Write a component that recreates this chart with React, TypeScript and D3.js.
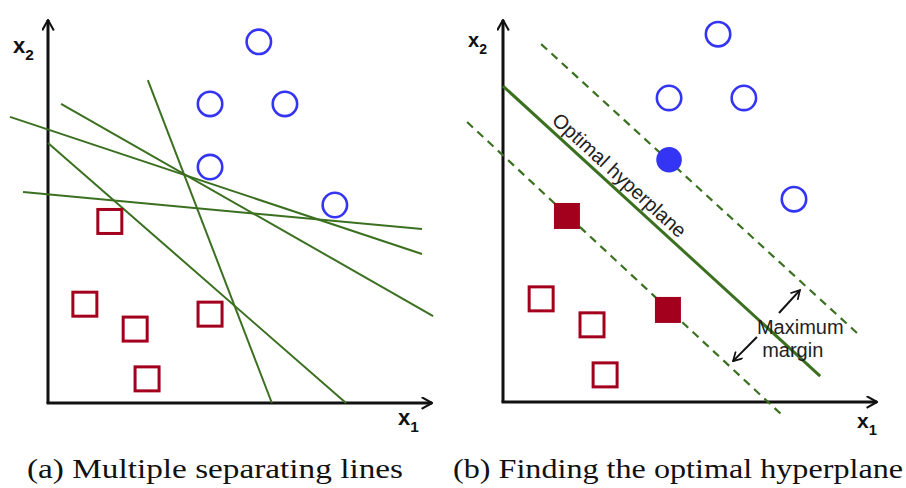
import React, { useRef, useEffect } from "react";
import * as d3 from "d3";

// panel (a): points and candidate lines, in axis units (0..10)
const leftCircles = [
  [5.49, 9.43],
  [4.22, 7.81],
  [6.17, 7.81],
  [4.22, 6.16],
  [7.47, 5.17],
];
const leftSquares = [
  [1.61, 4.74],
  [0.96, 2.58],
  [2.27, 1.93],
  [4.22, 2.32],
  [2.58, 0.63],
];
const leftLines = [
  [[-0.99, 7.47], [9.74, 3.89]],
  [[0.34, 7.81], [10.03, 2.27]],
  [[0, 6.79], [7.76, 0]],
  [[-0.65, 5.51], [9.74, 4.54]],
  [[2.6, 8.43], [5.83, 0]],
];

// panel (b): points, hyperplane and margins
const rightCircles = [
  [5.75, 9.63],
  [4.44, 7.96],
  [6.44, 7.96],
  [7.78, 5.31],
];
const rightSupportCircles = [[4.44, 6.34]];
const rightSquares = [
  [1.02, 2.7],
  [2.38, 2.02],
  [2.73, 0.71],
];
const rightSupportSquares = [
  [1.71, 4.87],
  [4.41, 2.41],
];
const hyperplane = [[0, 8.27], [8.48, 0.68]];
const margins = [
  [[1.02, 9.37], [9.55, 1.73]],
  [[-0.96, 7.33], [7.46, -0.34]],
];
const marginArrows = [
  [[7.38, 2.33], [7.94, 2.93]],
  [[6.79, 1.7], [6.15, 1.07]],
];
const marginLabel = [
  { text: "Maximum", x: 6.79, y: 1.78 },
  { text: "margin", x: 6.93, y: 1.18 },
];
const hyperplaneLabel = { text: "Optimal hyperplane", at: 1.17 };

const captions = ["(a) Multiple separating lines", "(b) Finding the optimal hyperplane"];

const GREEN = "#3b7020";
const BLUE = "#3434f5";
const RED = "#a3001e";
const SANS = "'Liberation Sans', Arial, Helvetica, sans-serif";
const SERIF = "'Liberation Serif', 'Times New Roman', Times, serif";

const App = () => {
  const ref = useRef();

  useEffect(() => {
    const svg = d3.select(ref.current);
    svg.selectAll("*").remove();

    const defs = svg.append("defs");
    const mk = (id, size) =>
      defs
        .append("marker")
        .attr("id", id)
        .attr("viewBox", "0 0 10 10")
        .attr("refX", 9)
        .attr("refY", 5)
        .attr("markerUnits", "userSpaceOnUse")
        .attr("markerWidth", size)
        .attr("markerHeight", size)
        .attr("orient", "auto")
        .append("path")
        .attr("d", "M1,0.5 L9,5 L1,9.5")
        .attr("fill", "none")
        .attr("stroke", "#111")
        .attr("stroke-width", 1.6);
    mk("axisArrow", 13);
    mk("smallArrow", 11);

    const L = {
      x: d3.scaleLinear().domain([0, 10]).range([48, 432]),
      y: d3.scaleLinear().domain([0, 10]).range([403, 20]),
    };
    const R = {
      x: d3.scaleLinear().domain([0, 10]).range([503, 877]),
      y: d3.scaleLinear().domain([0, 10]).range([402, 20]),
    };

    const drawAxes = (s, lab) => {
      const g = svg.append("g");
      g.append("line")
        .attr("x1", s.x(0)).attr("y1", s.y(0))
        .attr("x2", s.x(0)).attr("y2", s.y(10))
        .attr("stroke", "#111").attr("stroke-width", 3)
        .attr("marker-end", "url(#axisArrow)");
      g.append("line")
        .attr("x1", s.x(0) - 1.5).attr("y1", s.y(0))
        .attr("x2", s.x(10)).attr("y2", s.y(0))
        .attr("stroke", "#111").attr("stroke-width", 3)
        .attr("marker-end", "url(#axisArrow)");
      lab.forEach((l) => {
        const t = g.append("text")
          .attr("x", l.x).attr("y", l.y)
          .style("font-family", SANS)
          .attr("font-weight", "bold")
          .attr("font-size", l.size)
          .attr("fill", "#111");
        t.append("tspan").text("x");
        t.append("tspan").attr("dy", 7).attr("font-size", l.size * 0.7).text(l.sub);
      });
    };

    const lineGen = (s) => d3.line().x((d) => s.x(d[0])).y((d) => s.y(d[1]));

    const drawCircles = (s, data, filled) =>
      svg.append("g").selectAll("circle").data(data).enter().append("circle")
        .attr("cx", (d) => s.x(d[0])).attr("cy", (d) => s.y(d[1]))
        .attr("r", filled ? 12.8 : 12.2)
        .attr("fill", filled ? BLUE : "none")
        .attr("stroke", filled ? "none" : BLUE)
        .attr("stroke-width", 2.6);

    const drawSquares = (s, data, filled) => {
      const sz = filled ? 26 : 24;
      svg.append("g").selectAll("rect").data(data).enter().append("rect")
        .attr("x", (d) => s.x(d[0]) - sz / 2).attr("y", (d) => s.y(d[1]) - sz / 2)
        .attr("width", sz).attr("height", sz)
        .attr("fill", filled ? RED : "none")
        .attr("stroke", filled ? "none" : RED)
        .attr("stroke-width", 3);
    };

    // ---- panel (a)
    drawAxes(L, [
      { x: 13, y: 53, size: 22, sub: "2" },
      { x: 398, y: 425, size: 22, sub: "1" },
    ]);
    svg.append("g").selectAll("path").data(leftLines).enter().append("path")
      .attr("d", lineGen(L))
      .attr("stroke", GREEN).attr("stroke-width", 2).attr("fill", "none");
    drawCircles(L, leftCircles, false);
    drawSquares(L, leftSquares, false);

    // ---- panel (b)
    drawAxes(R, [
      { x: 468, y: 47, size: 20, sub: "2" },
      { x: 857, y: 428, size: 21, sub: "1" },
    ]);
    svg.append("path").datum(hyperplane)
      .attr("d", lineGen(R))
      .attr("stroke", GREEN).attr("stroke-width", 3).attr("fill", "none");
    svg.append("g").selectAll("path").data(margins).enter().append("path")
      .attr("d", lineGen(R))
      .attr("stroke", GREEN).attr("stroke-width", 2.2)
      .attr("stroke-dasharray", "8,6").attr("fill", "none");
    drawCircles(R, rightCircles, false);
    drawCircles(R, rightSupportCircles, true);
    drawSquares(R, rightSquares, false);
    drawSquares(R, rightSupportSquares, true);

    // hyperplane label along the line
    const [h0, h1] = hyperplane;
    const ang =
      (Math.atan2(R.y(h1[1]) - R.y(h0[1]), R.x(h1[0]) - R.x(h0[0])) * 180) / Math.PI;
    const t = hyperplaneLabel.at;
    const hy = h0[1] + ((h1[1] - h0[1]) * (t - h0[0])) / (h1[0] - h0[0]);
    svg.append("text")
      .attr("transform", `translate(${R.x(t)},${R.y(hy)}) rotate(${ang})`)
      .attr("x", 0).attr("y", -6)
      .style("font-family", SANS)
      .attr("font-size", 20)
      .attr("fill", "#222")
      .text(hyperplaneLabel.text);

    svg.append("g").selectAll("path").data(marginArrows).enter().append("path")
      .attr("d", lineGen(R))
      .attr("stroke", "#111").attr("stroke-width", 2).attr("fill", "none")
      .attr("marker-end", "url(#smallArrow)");
    svg.append("g").selectAll("text").data(marginLabel).enter().append("text")
      .attr("x", (d) => R.x(d.x)).attr("y", (d) => R.y(d.y))
      .style("font-family", SANS)
      .attr("font-size", 20)
      .attr("fill", "#222")
      .text((d) => d.text);

    // captions
    const capPos = [
      { x: 27, w: 376 },
      { x: 453, w: 450 },
    ];
    svg.append("g").selectAll("text").data(captions).enter().append("text")
      .attr("x", (d, i) => capPos[i].x).attr("y", 478)
      .style("font-family", SERIF)
      .attr("font-size", 27)
      .attr("fill", "#111")
      .attr("textLength", (d, i) => capPos[i].w)
      .attr("lengthAdjust", "spacingAndGlyphs")
      .text((d) => d);
  }, []);

  return (
    <div style={{ position: "absolute", left: 0, top: 0 }}>
      <svg ref={ref} width={906} height={488} style={{ display: "block", background: "#fff" }} />
    </div>
  );
};

export default App;
